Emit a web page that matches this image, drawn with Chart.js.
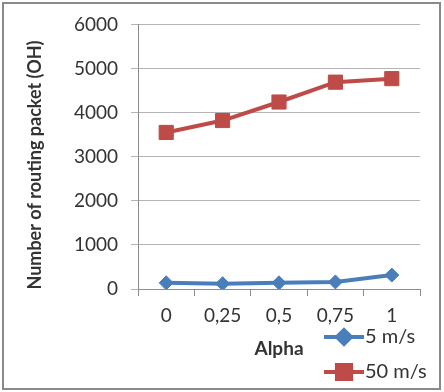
<!DOCTYPE html>
<html>
<head>
<meta charset="utf-8">
<script src="https://cdn.jsdelivr.net/npm/chart.js@4"></script>
<style>
  body { margin: 0; background: #fff; }
  #wrap { position: relative; width: 444px; height: 392px; }
  #wrap canvas { position: absolute; left: 0; top: 0; }
  #frame { position: absolute; left: 2px; top: 2px; width: 435px; height: 384px;
           border: 2px solid #8a8a8a; pointer-events: none; }
</style>
</head>
<body>
<div id="wrap">
  <canvas id="chart" width="444" height="392"></canvas>
  <div id="frame"></div>
</div>
<script>
const alphaLabels = ['0', '0,25', '0,5', '0,75', '1'];
const speed5 = [140, 120, 140, 160, 315];
const speed50 = [3550, 3820, 4240, 4690, 4770];
const yTicks = [0, 1000, 2000, 3000, 4000, 5000, 6000];
const yTitle = 'Number of routing packet (OH)';

const blue = '#4A7EBB';
const red = '#BE4B48';
const textColor = '#333333';
const fontFamily = 'Lato, "Open Sans", sans-serif';

// legend + y title drawn by hand, placed like the Excel original
const extras = {
  id: 'extras',
  afterDraw(chart) {
    const ctx = chart.ctx;
    ctx.save();
    ctx.translate(35, 165);
    ctx.rotate(-Math.PI / 2);
    ctx.fillStyle = textColor;
    ctx.font = 'bold 18px ' + fontFamily;
    ctx.textAlign = 'center';
    ctx.textBaseline = 'middle';
    ctx.fillText(yTitle, 0, 0);
    ctx.restore();

    const rows = [{ ds: 0, y: 337 }, { ds: 1, y: 372 }];
    ctx.save();
    rows.forEach(r => {
      const ds = chart.data.datasets[r.ds];
      ctx.strokeStyle = ds.borderColor;
      ctx.lineWidth = 4;
      ctx.beginPath();
      ctx.moveTo(324, r.y);
      ctx.lineTo(364, r.y);
      ctx.stroke();
      Chart.helpers.drawPoint(ctx, {
        pointStyle: ds.pointStyle,
        radius: ds.pointRadius,
        borderWidth: 1
      }, 344, r.y);
      ctx.fillStyle = ds.pointBackgroundColor;
      ctx.fill();
      ctx.fillStyle = textColor;
      ctx.font = '20px ' + fontFamily;
      ctx.textBaseline = 'middle';
      ctx.textAlign = 'left';
      ctx.fillText(ds.label, 365, r.y);
    });
    ctx.restore();
  }
};

new Chart(document.getElementById('chart'), {
  type: 'line',
  data: {
    labels: alphaLabels,
    datasets: [
      {
        label: '5 m/s',
        data: speed5,
        borderColor: blue,
        backgroundColor: blue,
        pointBackgroundColor: blue,
        pointBorderColor: blue,
        borderWidth: 4,
        pointStyle: 'rectRot',
        pointRadius: 7,
        pointBorderWidth: 1,
        tension: 0
      },
      {
        label: '50 m/s',
        data: speed50,
        borderColor: red,
        backgroundColor: red,
        pointBackgroundColor: red,
        pointBorderColor: red,
        borderWidth: 4,
        pointStyle: 'rect',
        pointRadius: 10,
        pointBorderWidth: 1,
        tension: 0
      }
    ]
  },
  options: {
    responsive: false,
    animation: false,
    layout: { padding: { left: 0, top: 24, right: 24, bottom: 0 } },
    plugins: {
      legend: { display: false },
      tooltip: { enabled: false }
    },
    scales: {
      x: {
        offset: true,
        afterFit: s => { s.height = 103; },
        border: { color: '#8c8c8c', width: 1 },
        grid: { offset: true, drawOnChartArea: false, drawTicks: true, tickLength: 7, color: '#8c8c8c' },
        ticks: { color: textColor, font: { family: fontFamily, size: 19 }, padding: 8, maxRotation: 0 },
        title: {
          display: true,
          text: 'Alpha',
          color: textColor,
          font: { family: fontFamily, size: 19, weight: 'bold' },
          padding: { top: 0, bottom: 32 }
        }
      },
      y: {
        min: 0,
        max: 6000,
        afterFit: s => { s.width = 138; },
        afterBuildTicks: s => { s.ticks = yTicks.map(v => ({ value: v })); },
        border: { color: '#8c8c8c', width: 1 },
        grid: { color: '#b4b4b4', tickLength: 7, drawTicks: true },
        ticks: {
          color: textColor,
          font: { family: fontFamily, size: 19 },
          padding: 13,
          callback: v => String(v)
        }
      }
    }
  },
  plugins: [extras]
});
</script>
</body>
</html>
